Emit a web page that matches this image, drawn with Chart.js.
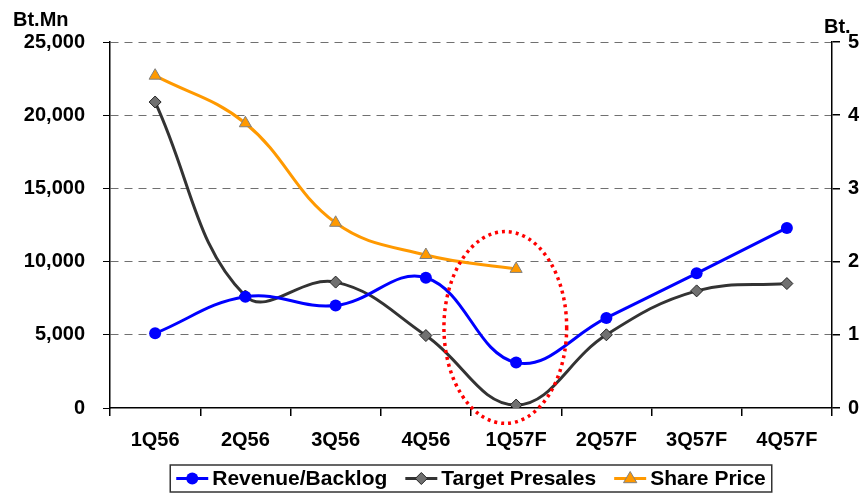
<!DOCTYPE html>
<html><head><meta charset="utf-8">
<script src="https://cdn.jsdelivr.net/npm/chart.js@4.4.1/dist/chart.umd.min.js"></script>
<style>html,body{margin:0;padding:0;background:#fff;}</style>
</head><body>
<canvas id="c" width="866" height="498"></canvas>
<script>
const categories = ['1Q56','2Q56','3Q56','4Q56','1Q57F','2Q57F','3Q57F','4Q57F'];
const revenueBacklog = [5100,7600,7000,8900,3100,6150,9200,12300];
const targetPresales = [20900,7650,8600,4950,200,5000,8000,8500];
const sharePrice = [4.54,3.89,2.53,2.09,1.90,null,null,null];
const seriesNames = ['Revenue/Backlog','Target Presales','Share Price'];
const leftUnit = 'Bt.Mn';
const rightUnit = 'Bt.';
// highlighted region (data units: category index / left-axis value)
const highlight = {cx: 3.88, cy: 5500, rx: 0.68, ry: 6550};

const FONT = 'Liberation Sans, Arial, sans-serif';
const tickFont = {family: FONT, size: 20, weight: 'bold'};

function drawMarker(ctx, style, x, y, r, fill, stroke, bw) {
  ctx.save();
  ctx.fillStyle = fill; ctx.strokeStyle = stroke; ctx.lineWidth = bw;
  ctx.beginPath();
  if (style === 'circle') {
    ctx.arc(x, y, r, 0, Math.PI * 2);
  } else if (style === 'rectRot') {
    ctx.moveTo(x, y - r); ctx.lineTo(x + r, y); ctx.lineTo(x, y + r); ctx.lineTo(x - r, y);
    ctx.closePath();
  } else if (style === 'triangle') {
    ctx.moveTo(x, y - r); ctx.lineTo(x + r * 0.95, y + r * 0.6); ctx.lineTo(x - r * 0.95, y + r * 0.6);
    ctx.closePath();
  }
  ctx.fill();
  if (bw > 0) ctx.stroke();
  ctx.restore();
}

const extras = {
  id: 'extras',
  afterDatasetsDraw(chart) {
    const ctx = chart.ctx;
    const xs = chart.scales.x, ys = chart.scales.y;
    const cx = xs.getPixelForValue(highlight.cx);
    const cy = ys.getPixelForValue(highlight.cy);
    const rx = xs.getPixelForValue(highlight.cx + highlight.rx) - cx;
    const ry = cy - ys.getPixelForValue(highlight.cy + highlight.ry);
    ctx.save();
    ctx.strokeStyle = '#FF0000';
    ctx.lineWidth = 3.5;
    ctx.setLineDash([3, 4]);
    ctx.beginPath();
    ctx.ellipse(cx, cy, rx, ry, 0, 0, Math.PI * 2);
    ctx.stroke();
    ctx.restore();
  },
  afterDraw(chart) {
    const ctx = chart.ctx;
    const a = chart.chartArea;
    ctx.save();
    ctx.fillStyle = '#000';
    ctx.font = 'bold 20px ' + FONT;
    ctx.textBaseline = 'alphabetic';
    ctx.textAlign = 'left';
    ctx.fillText(leftUnit, 13, a.top - 16);
    ctx.fillText(rightUnit, a.right - 8, a.top - 9);

    // legend
    ctx.font = 'bold 21px ' + FONT;
    const sample = 32, gapT = 4, gapItem = 18, pad = 6;
    const items = chart.data.datasets.map(ds => ({ds, w: sample + gapT + ctx.measureText(ds.label).width}));
    const total = items.reduce((s, it) => s + it.w, 0) + gapItem * (items.length - 1) + pad * 2;
    const boxL = (a.left + a.right) / 2 - total / 2;
    const boxT = chart.height - 33, boxH = 27;
    ctx.strokeStyle = '#333';
    ctx.lineWidth = 1.5;
    ctx.strokeRect(boxL, boxT, total, boxH);
    let x = boxL + pad;
    const my = boxT + boxH / 2;
    items.forEach(it => {
      const ds = it.ds;
      ctx.strokeStyle = ds.borderColor; ctx.lineWidth = ds.borderWidth;
      ctx.beginPath(); ctx.moveTo(x, my); ctx.lineTo(x + sample, my); ctx.stroke();
      drawMarker(ctx, ds.pointStyle, x + sample / 2, my, ds.pointRadius, ds.pointBackgroundColor, ds.pointBorderColor, ds.pointBorderWidth);
      ctx.fillStyle = '#000';
      ctx.textBaseline = 'middle';
      ctx.fillText(ds.label, x + sample + gapT, my + 1);
      x += it.w + gapItem;
    });
    ctx.restore();
  }
};

new Chart(document.getElementById('c'), {
  type: 'line',
  data: {
    labels: categories,
    datasets: [
      {label: seriesNames[0], data: revenueBacklog, yAxisID: 'y', borderColor: '#0000FF', borderWidth: 3,
       pointStyle: 'circle', pointRadius: 6, pointBackgroundColor: '#0000FF', pointBorderColor: '#0000FF', pointBorderWidth: 0, tension: 0.4},
      {label: seriesNames[1], data: targetPresales, yAxisID: 'y', borderColor: '#333333', borderWidth: 3,
       pointStyle: 'rectRot', pointRadius: 6, pointBackgroundColor: '#707070', pointBorderColor: '#222', pointBorderWidth: 1, tension: 0.4},
      {label: seriesNames[2], data: sharePrice, yAxisID: 'y1', borderColor: '#FF9900', borderWidth: 3,
       pointStyle: 'triangle', pointRadius: 7, pointBackgroundColor: '#FF9900', pointBorderColor: '#808080', pointBorderWidth: 1, tension: 0.4}
    ]
  },
  options: {
    responsive: false,
    animation: false,
    layout: {padding: {top: 42, bottom: 42, left: 0, right: 0}},
    plugins: {legend: {display: false}, tooltip: {enabled: false}},
    scales: {
      x: {
        offset: true,
        grid: {offset: true, drawOnChartArea: false, tickLength: 8, color: '#000', lineWidth: 1.5},
        border: {color: '#000', width: 1.5},
        ticks: {font: tickFont, color: '#000', padding: 12, maxRotation: 0},
        afterFit: s => { s.height = 48; }
      },
      y: {
        position: 'left', min: 0, max: 25000,
        ticks: {stepSize: 5000, font: tickFont, color: '#000', padding: 18,
                callback: v => v.toLocaleString('en-US')},
        grid: {color: c => c.tick && c.tick.value === 0 ? 'rgba(0,0,0,0)' : '#707070', tickColor: '#000', tickLength: 7, lineWidth: 1},
        border: {color: '#000', width: 1.5, dash: [8, 6]},
        afterFit: s => { s.width = 110; }
      },
      y1: {
        position: 'right', min: 0, max: 5,
        ticks: {stepSize: 1, font: tickFont, color: '#000', padding: 8},
        grid: {drawOnChartArea: false, tickColor: '#000', tickLength: 8, lineWidth: 1.5},
        border: {color: '#000', width: 1.5},
        afterFit: s => { s.width = 34; }
      }
    }
  },
  plugins: [extras]
});
</script>
</body></html>
